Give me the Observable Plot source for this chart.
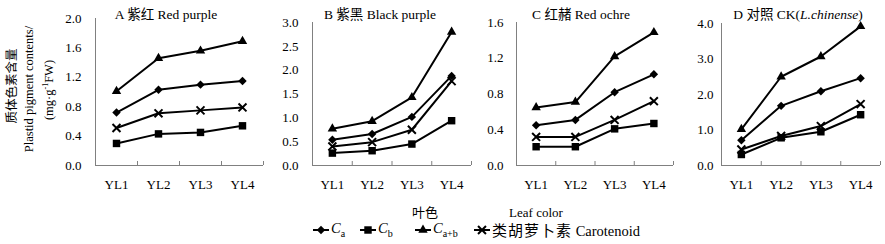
<!DOCTYPE html>
<html><head><meta charset="utf-8">
<script src="https://cdn.jsdelivr.net/npm/d3@7"></script>
<script src="https://cdn.jsdelivr.net/npm/@observablehq/plot@0.6"></script>
<style>
body{margin:0;background:#fff;}
#wrap{position:relative;width:885px;height:244px;font-family:"Liberation Serif","Times New Roman",serif;color:#000;overflow:hidden;}
.abs{position:absolute;white-space:nowrap;line-height:1;}
.cjk{font-family:"Noto Sans CJK SC",sans-serif;}
#wrap svg{position:absolute;top:0;max-width:none;}
#wrap svg text{font-family:"Liberation Serif","Times New Roman",serif;font-weight:normal;}
</style></head><body><div id="wrap"></div>
<script>
// categories (leaf stages)
const categories = ["YL1", "YL2", "YL3", "YL4"];
const seriesKeys = ["Ca", "Cb", "Cab", "Car"];

// Panel A 紫红 Red purple
const A_Ca  = [0.72, 1.03, 1.10, 1.15];
const A_Cb  = [0.30, 0.43, 0.45, 0.54];
const A_Cab = [1.01, 1.46, 1.56, 1.69];
const A_Car = [0.51, 0.71, 0.75, 0.79];
const A_ticks = [0, 0.4, 0.8, 1.2, 1.6, 2.0];

// Panel B 紫黑 Black purple
const B_Ca  = [0.54, 0.66, 1.02, 1.88];
const B_Cb  = [0.26, 0.31, 0.45, 0.94];
const B_Cab = [0.77, 0.93, 1.43, 2.80];
const B_Car = [0.40, 0.49, 0.75, 1.77];
const B_ticks = [0, 0.5, 1.0, 1.5, 2.0, 2.5, 3.0];

// Panel C 红赭 Red ochre
const C_Ca  = [0.45, 0.51, 0.82, 1.02];
const C_Cb  = [0.21, 0.21, 0.41, 0.47];
const C_Cab = [0.65, 0.71, 1.22, 1.49];
const C_Car = [0.32, 0.32, 0.51, 0.72];
const C_ticks = [0, 0.4, 0.8, 1.2, 1.6];

// Panel D 对照 CK (L. chinense)
const D_Ca  = [0.71, 1.68, 2.09, 2.46];
const D_Cb  = [0.31, 0.78, 0.95, 1.43];
const D_Cab = [1.02, 2.50, 3.07, 3.92];
const D_Car = [0.45, 0.83, 1.11, 1.73];
const D_ticks = [0, 1.0, 2.0, 3.0, 4.0];

const wrap = document.getElementById("wrap");
const serif = "Liberation Serif, Times New Roman, serif";

const symbols = {Ca: "diamond2", Cb: "square", Cab: "triangle", Car: "times"};
const radii = {Ca: 3.8, Cb: 4.2, Cab: 3.5, Car: 3.7};

const panels = [
  {left: 55, axisX: 95, plotW: 168, top: 18, ticks: A_ticks, pad: 14, data: {Ca: A_Ca, Cb: A_Cb, Cab: A_Cab, Car: A_Car}},
  {left: 272, axisX: 312, plotW: 159, top: 22, ticks: B_ticks, pad: 14, data: {Ca: B_Ca, Cb: B_Cb, Cab: B_Cab, Car: B_Car}},
  {left: 476, axisX: 516, plotW: 157, top: 22, ticks: C_ticks, pad: 13, data: {Ca: C_Ca, Cb: C_Cb, Cab: C_Cab, Car: C_Car}},
  {left: 681, axisX: 721, plotW: 159, top: 23, ticks: D_ticks, pad: 8, data: {Ca: D_Ca, Cb: D_Cb, Cab: D_Cab, Car: D_Car}}
];

for (const p of panels) {
  const marks = [];
  marks.push(Plot.ruleY([0], {stroke: "#808080", strokeWidth: 1}));
  marks.push(Plot.ruleX([0], {stroke: "#808080", strokeWidth: 1}));
  marks.push(Plot.ruleX([1, 2, 3, 4], {y1: 0, y2: 0, insetBottom: 4, stroke: "#808080"}));
  for (const k of seriesKeys) {
    const rows = categories.map((c, i) => ({x: i + 0.5, y: p.data[k][i]}));
    marks.push(Plot.line(rows, {x: "x", y: "y", stroke: "black", strokeWidth: 2}));
    if (k === "Car") {
      marks.push(Plot.dot(rows, {x: "x", y: "y", symbol: symbols[k], r: radii[k], stroke: "black", strokeWidth: 2, fill: "none"}));
    } else {
      marks.push(Plot.dot(rows, {x: "x", y: "y", symbol: symbols[k], r: radii[k], fill: "black", stroke: "none"}));
    }
  }
  marks.push(Plot.axisY({ticks: p.ticks, tickSize: 0, tickPadding: p.pad, tickFormat: d3.format(".1f"), label: null, fontFamily: serif, fontSize: 13, fill: "black"}));
  marks.push(Plot.axisX({ticks: [0.5, 1.5, 2.5, 3.5], tickSize: 0, tickPadding: 14, tickFormat: d => categories[Math.floor(d)], label: null, fontFamily: serif, fontSize: 13, fill: "black"}));
  const svg = Plot.plot({
    width: p.axisX - p.left + p.plotW + 5,
    height: 195,
    marginLeft: p.axisX - p.left,
    marginRight: 5,
    marginTop: p.top,
    marginBottom: 30,
    x: {domain: [0, 4], label: null},
    y: {domain: [0, p.ticks[p.ticks.length - 1]], label: null},
    style: {fontFamily: serif, fontSize: "13px", background: "transparent", color: "black", overflow: "visible"},
    marks
  });
  svg.style.left = p.left + "px";
  wrap.appendChild(svg);
}

function addText(html, x, y, size, extra) {
  const d = document.createElement("div");
  d.className = "abs";
  d.innerHTML = html;
  d.style.left = x + "px";
  d.style.top = y + "px";
  d.style.fontSize = size + "px";
  d.style.transform = extra || "translate(-50%,-50%)";
  wrap.appendChild(d);
  return d;
}

// Panel titles
addText('A <span class="cjk">紫红</span> Red purple', 166, 14, 13.5);
addText('B <span class="cjk">紫黑</span> Black purple', 380, 14, 13.5);
addText('C <span class="cjk">红赭</span> Red ochre', 581, 14, 13.5);
addText('D <span class="cjk">对照</span> CK(<i>L.chinense</i>)', 798, 14, 13.5);

// Y axis title (rotated)
addText('<span class="cjk">质体色素含量</span>', 12, 86, 12.5, "translate(-50%,-50%) rotate(-90deg)");
addText('Plastid pigment contents/', 29, 89, 12.5, "translate(-50%,-50%) rotate(-90deg)");
addText('(mg·g<sup style="font-size:8px">-1</sup>FW)', 49, 90, 12.5, "translate(-50%,-50%) rotate(-90deg)");

// X axis title
addText('<span class="cjk">叶色</span>', 425, 212, 13);
addText('Leaf color', 536, 212, 13);

// Legend
const legendItems = [
  {k: "Ca", cx: 321, html: '<i>C</i><sub style="font-size:10px">a</sub>'},
  {k: "Cb", cx: 368, html: '<i>C</i><sub style="font-size:10px">b</sub>'},
  {k: "Cab", cx: 423, html: '<i>C</i><sub style="font-size:10px">a+b</sub>'},
  {k: "Car", cx: 482, html: '<span class="cjk" style="font-size:15px;letter-spacing:1px">类胡萝卜素</span> Carotenoid'}
];
for (const it of legendItems) {
  const s = d3.create("svg").attr("width", 20).attr("height", 14)
    .style("position", "absolute").style("left", (it.cx - 10) + "px").style("top", "223px");
  s.append("line").attr("x1", 2).attr("x2", 18).attr("y1", 7).attr("y2", 7).attr("stroke", "black").attr("stroke-width", 2);
  const symMap = {Ca: d3.symbolDiamond2, Cb: d3.symbolSquare, Cab: d3.symbolTriangle, Car: d3.symbolTimes};
  const r = radii[it.k];
  const path = s.append("path").attr("transform", "translate(10,7)")
    .attr("d", d3.symbol(symMap[it.k], r * r * Math.PI)());
  if (it.k === "Car") path.attr("fill", "none").attr("stroke", "black").attr("stroke-width", 2);
  else path.attr("fill", "black");
  wrap.appendChild(s.node());
  addText(it.html, it.cx + 10, 230, 14.5, "translate(0,-50%)");
}
</script></body></html>
